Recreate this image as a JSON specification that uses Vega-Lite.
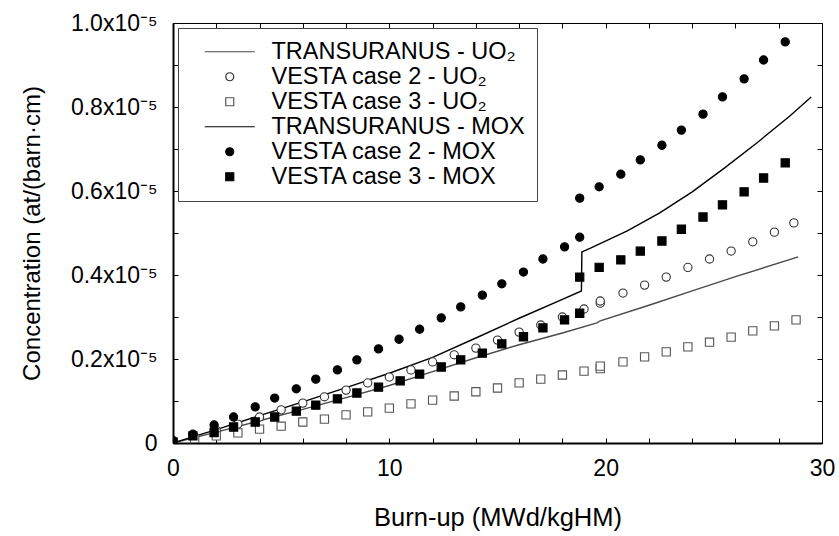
{
  "$schema": "https://vega.github.io/schema/vega-lite/v6.json",
  "width": 649,
  "height": 420,
  "autosize": {"type": "none"},
  "padding": {"left": 173, "top": 23, "right": 17, "bottom": 93},
  "background": "white",
  "config": {
    "font": "Liberation Sans",
    "view": {"stroke": "black", "strokeWidth": 1},
    "axis": {
      "grid": false,
      "domainColor": "black",
      "tickColor": "black",
      "tickWidth": 1,
      "labelColor": "black",
      "titleColor": "black",
      "labelFont": "Liberation Sans",
      "titleFont": "Liberation Sans",
      "labelFontSize": 23,
      "titleFontSize": 25.5,
      "titleFontWeight": "normal",
      "labelOverlap": false,
      "labelFlush": false
    },
    "legend": {
      "labelFont": "Liberation Sans",
      "labelFontSize": 23.5,
      "labelColor": "black",
      "labelLimit": 400,
      "symbolSize": 64,
      "symbolStrokeWidth": 1.2,
      "padding": 12,
      "rowPadding": 0,
      "symbolOffset": 28,
      "labelOffset": 30,
      "strokeColor": "#444444",
      "fillColor": "white",
      "orient": "top-left",
      "offset": 5
    }
  },
  "datasets": {
    "transuranus": [
      {"series": "TRANSURANUS - UO₂", "i": 1, "burnup": 0, "conc": 0},
      {"series": "TRANSURANUS - UO₂", "i": 2, "burnup": 2, "conc": 0.026e-5},
      {"series": "TRANSURANUS - UO₂", "i": 3, "burnup": 4, "conc": 0.053e-5},
      {"series": "TRANSURANUS - UO₂", "i": 4, "burnup": 6, "conc": 0.080e-5},
      {"series": "TRANSURANUS - UO₂", "i": 5, "burnup": 8, "conc": 0.108e-5},
      {"series": "TRANSURANUS - UO₂", "i": 6, "burnup": 10, "conc": 0.137e-5},
      {"series": "TRANSURANUS - UO₂", "i": 7, "burnup": 12, "conc": 0.170e-5},
      {"series": "TRANSURANUS - UO₂", "i": 8, "burnup": 14, "conc": 0.203e-5},
      {"series": "TRANSURANUS - UO₂", "i": 9, "burnup": 16, "conc": 0.234e-5},
      {"series": "TRANSURANUS - UO₂", "i": 10, "burnup": 18, "conc": 0.262e-5},
      {"series": "TRANSURANUS - UO₂", "i": 11, "burnup": 19.6, "conc": 0.286e-5},
      {"series": "TRANSURANUS - UO₂", "i": 12, "burnup": 19.75, "conc": 0.291e-5},
      {"series": "TRANSURANUS - UO₂", "i": 13, "burnup": 22, "conc": 0.328e-5},
      {"series": "TRANSURANUS - UO₂", "i": 14, "burnup": 24, "conc": 0.362e-5},
      {"series": "TRANSURANUS - UO₂", "i": 15, "burnup": 26, "conc": 0.396e-5},
      {"series": "TRANSURANUS - UO₂", "i": 16, "burnup": 28.9, "conc": 0.443e-5},
      {"series": "TRANSURANUS - MOX", "i": 1, "burnup": 0, "conc": 0},
      {"series": "TRANSURANUS - MOX", "i": 2, "burnup": 2, "conc": 0.032e-5},
      {"series": "TRANSURANUS - MOX", "i": 3, "burnup": 4, "conc": 0.065e-5},
      {"series": "TRANSURANUS - MOX", "i": 4, "burnup": 6, "conc": 0.098e-5},
      {"series": "TRANSURANUS - MOX", "i": 5, "burnup": 8, "conc": 0.132e-5},
      {"series": "TRANSURANUS - MOX", "i": 6, "burnup": 10, "conc": 0.166e-5},
      {"series": "TRANSURANUS - MOX", "i": 7, "burnup": 12, "conc": 0.204e-5},
      {"series": "TRANSURANUS - MOX", "i": 8, "burnup": 14, "conc": 0.250e-5},
      {"series": "TRANSURANUS - MOX", "i": 9, "burnup": 16, "conc": 0.297e-5},
      {"series": "TRANSURANUS - MOX", "i": 10, "burnup": 18, "conc": 0.342e-5},
      {"series": "TRANSURANUS - MOX", "i": 11, "burnup": 18.88, "conc": 0.362e-5},
      {"series": "TRANSURANUS - MOX", "i": 12, "burnup": 18.9, "conc": 0.455e-5},
      {"series": "TRANSURANUS - MOX", "i": 13, "burnup": 19.3, "conc": 0.464e-5},
      {"series": "TRANSURANUS - MOX", "i": 14, "burnup": 21, "conc": 0.505e-5},
      {"series": "TRANSURANUS - MOX", "i": 15, "burnup": 22.5, "conc": 0.548e-5},
      {"series": "TRANSURANUS - MOX", "i": 16, "burnup": 24, "conc": 0.598e-5},
      {"series": "TRANSURANUS - MOX", "i": 17, "burnup": 25.5, "conc": 0.655e-5},
      {"series": "TRANSURANUS - MOX", "i": 18, "burnup": 27, "conc": 0.715e-5},
      {"series": "TRANSURANUS - MOX", "i": 19, "burnup": 28.5, "conc": 0.778e-5},
      {"series": "TRANSURANUS - MOX", "i": 20, "burnup": 29.5, "conc": 0.824e-5}
    ],
    "vesta": [
      {"series": "VESTA case 2 - UO₂", "burnup": 0, "conc": 0.003e-5},
      {"series": "VESTA case 2 - UO₂", "burnup": 1, "conc": 0.015e-5},
      {"series": "VESTA case 2 - UO₂", "burnup": 2, "conc": 0.030e-5},
      {"series": "VESTA case 2 - UO₂", "burnup": 3, "conc": 0.045e-5},
      {"series": "VESTA case 2 - UO₂", "burnup": 4, "conc": 0.062e-5},
      {"series": "VESTA case 2 - UO₂", "burnup": 5, "conc": 0.079e-5},
      {"series": "VESTA case 2 - UO₂", "burnup": 6, "conc": 0.095e-5},
      {"series": "VESTA case 2 - UO₂", "burnup": 7, "conc": 0.110e-5},
      {"series": "VESTA case 2 - UO₂", "burnup": 8, "conc": 0.126e-5},
      {"series": "VESTA case 2 - UO₂", "burnup": 9, "conc": 0.143e-5},
      {"series": "VESTA case 2 - UO₂", "burnup": 10, "conc": 0.157e-5},
      {"series": "VESTA case 2 - UO₂", "burnup": 11, "conc": 0.174e-5},
      {"series": "VESTA case 2 - UO₂", "burnup": 12, "conc": 0.193e-5},
      {"series": "VESTA case 2 - UO₂", "burnup": 13, "conc": 0.210e-5},
      {"series": "VESTA case 2 - UO₂", "burnup": 14, "conc": 0.226e-5},
      {"series": "VESTA case 2 - UO₂", "burnup": 15, "conc": 0.245e-5},
      {"series": "VESTA case 2 - UO₂", "burnup": 16, "conc": 0.264e-5},
      {"series": "VESTA case 2 - UO₂", "burnup": 17, "conc": 0.281e-5},
      {"series": "VESTA case 2 - UO₂", "burnup": 18, "conc": 0.300e-5},
      {"series": "VESTA case 2 - UO₂", "burnup": 19, "conc": 0.319e-5},
      {"series": "VESTA case 2 - UO₂", "burnup": 19.75, "conc": 0.333e-5},
      {"series": "VESTA case 2 - UO₂", "burnup": 19.75, "conc": 0.338e-5},
      {"series": "VESTA case 2 - UO₂", "burnup": 20.8, "conc": 0.357e-5},
      {"series": "VESTA case 2 - UO₂", "burnup": 21.8, "conc": 0.376e-5},
      {"series": "VESTA case 2 - UO₂", "burnup": 22.8, "conc": 0.395e-5},
      {"series": "VESTA case 2 - UO₂", "burnup": 23.8, "conc": 0.418e-5},
      {"series": "VESTA case 2 - UO₂", "burnup": 24.8, "conc": 0.438e-5},
      {"series": "VESTA case 2 - UO₂", "burnup": 25.8, "conc": 0.457e-5},
      {"series": "VESTA case 2 - UO₂", "burnup": 26.8, "conc": 0.479e-5},
      {"series": "VESTA case 2 - UO₂", "burnup": 27.8, "conc": 0.502e-5},
      {"series": "VESTA case 2 - UO₂", "burnup": 28.7, "conc": 0.524e-5},
      {"series": "VESTA case 3 - UO₂", "burnup": 0, "conc": 0.002e-5},
      {"series": "VESTA case 3 - UO₂", "burnup": 1, "conc": 0.010e-5},
      {"series": "VESTA case 3 - UO₂", "burnup": 2, "conc": 0.017e-5},
      {"series": "VESTA case 3 - UO₂", "burnup": 3, "conc": 0.024e-5},
      {"series": "VESTA case 3 - UO₂", "burnup": 4, "conc": 0.033e-5},
      {"series": "VESTA case 3 - UO₂", "burnup": 5, "conc": 0.040e-5},
      {"series": "VESTA case 3 - UO₂", "burnup": 6, "conc": 0.050e-5},
      {"series": "VESTA case 3 - UO₂", "burnup": 7, "conc": 0.057e-5},
      {"series": "VESTA case 3 - UO₂", "burnup": 8, "conc": 0.067e-5},
      {"series": "VESTA case 3 - UO₂", "burnup": 9, "conc": 0.074e-5},
      {"series": "VESTA case 3 - UO₂", "burnup": 10, "conc": 0.083e-5},
      {"series": "VESTA case 3 - UO₂", "burnup": 11, "conc": 0.093e-5},
      {"series": "VESTA case 3 - UO₂", "burnup": 12, "conc": 0.102e-5},
      {"series": "VESTA case 3 - UO₂", "burnup": 13, "conc": 0.112e-5},
      {"series": "VESTA case 3 - UO₂", "burnup": 14, "conc": 0.122e-5},
      {"series": "VESTA case 3 - UO₂", "burnup": 15, "conc": 0.131e-5},
      {"series": "VESTA case 3 - UO₂", "burnup": 16, "conc": 0.143e-5},
      {"series": "VESTA case 3 - UO₂", "burnup": 17, "conc": 0.152e-5},
      {"series": "VESTA case 3 - UO₂", "burnup": 18, "conc": 0.162e-5},
      {"series": "VESTA case 3 - UO₂", "burnup": 19, "conc": 0.171e-5},
      {"series": "VESTA case 3 - UO₂", "burnup": 19.75, "conc": 0.177e-5},
      {"series": "VESTA case 3 - UO₂", "burnup": 19.75, "conc": 0.183e-5},
      {"series": "VESTA case 3 - UO₂", "burnup": 20.8, "conc": 0.193e-5},
      {"series": "VESTA case 3 - UO₂", "burnup": 21.8, "conc": 0.205e-5},
      {"series": "VESTA case 3 - UO₂", "burnup": 22.8, "conc": 0.217e-5},
      {"series": "VESTA case 3 - UO₂", "burnup": 23.8, "conc": 0.229e-5},
      {"series": "VESTA case 3 - UO₂", "burnup": 24.8, "conc": 0.240e-5},
      {"series": "VESTA case 3 - UO₂", "burnup": 25.8, "conc": 0.252e-5},
      {"series": "VESTA case 3 - UO₂", "burnup": 26.8, "conc": 0.267e-5},
      {"series": "VESTA case 3 - UO₂", "burnup": 27.8, "conc": 0.279e-5},
      {"series": "VESTA case 3 - UO₂", "burnup": 28.8, "conc": 0.293e-5},
      {"series": "VESTA case 2 - MOX", "burnup": 0, "conc": 0.006e-5},
      {"series": "VESTA case 2 - MOX", "burnup": 0.92, "conc": 0.021e-5},
      {"series": "VESTA case 2 - MOX", "burnup": 1.9, "conc": 0.043e-5},
      {"series": "VESTA case 2 - MOX", "burnup": 2.8, "conc": 0.062e-5},
      {"series": "VESTA case 2 - MOX", "burnup": 3.8, "conc": 0.086e-5},
      {"series": "VESTA case 2 - MOX", "burnup": 4.7, "conc": 0.107e-5},
      {"series": "VESTA case 2 - MOX", "burnup": 5.7, "conc": 0.129e-5},
      {"series": "VESTA case 2 - MOX", "burnup": 6.6, "conc": 0.152e-5},
      {"series": "VESTA case 2 - MOX", "burnup": 7.6, "conc": 0.174e-5},
      {"series": "VESTA case 2 - MOX", "burnup": 8.5, "conc": 0.198e-5},
      {"series": "VESTA case 2 - MOX", "burnup": 9.5, "conc": 0.224e-5},
      {"series": "VESTA case 2 - MOX", "burnup": 10.45, "conc": 0.247e-5},
      {"series": "VESTA case 2 - MOX", "burnup": 11.4, "conc": 0.271e-5},
      {"series": "VESTA case 2 - MOX", "burnup": 12.4, "conc": 0.298e-5},
      {"series": "VESTA case 2 - MOX", "burnup": 13.3, "conc": 0.324e-5},
      {"series": "VESTA case 2 - MOX", "burnup": 14.3, "conc": 0.352e-5},
      {"series": "VESTA case 2 - MOX", "burnup": 15.2, "conc": 0.379e-5},
      {"series": "VESTA case 2 - MOX", "burnup": 16.2, "conc": 0.407e-5},
      {"series": "VESTA case 2 - MOX", "burnup": 17.1, "conc": 0.438e-5},
      {"series": "VESTA case 2 - MOX", "burnup": 18.1, "conc": 0.467e-5},
      {"series": "VESTA case 2 - MOX", "burnup": 18.8, "conc": 0.490e-5},
      {"series": "VESTA case 2 - MOX", "burnup": 18.8, "conc": 0.583e-5},
      {"series": "VESTA case 2 - MOX", "burnup": 19.7, "conc": 0.610e-5},
      {"series": "VESTA case 2 - MOX", "burnup": 20.7, "conc": 0.640e-5},
      {"series": "VESTA case 2 - MOX", "burnup": 21.6, "conc": 0.674e-5},
      {"series": "VESTA case 2 - MOX", "burnup": 22.6, "conc": 0.709e-5},
      {"series": "VESTA case 2 - MOX", "burnup": 23.5, "conc": 0.745e-5},
      {"series": "VESTA case 2 - MOX", "burnup": 24.5, "conc": 0.783e-5},
      {"series": "VESTA case 2 - MOX", "burnup": 25.4, "conc": 0.824e-5},
      {"series": "VESTA case 2 - MOX", "burnup": 26.4, "conc": 0.867e-5},
      {"series": "VESTA case 2 - MOX", "burnup": 27.3, "conc": 0.912e-5},
      {"series": "VESTA case 2 - MOX", "burnup": 28.3, "conc": 0.955e-5},
      {"series": "VESTA case 3 - MOX", "burnup": 0, "conc": 0.002e-5},
      {"series": "VESTA case 3 - MOX", "burnup": 0.92, "conc": 0.017e-5},
      {"series": "VESTA case 3 - MOX", "burnup": 1.9, "conc": 0.025e-5},
      {"series": "VESTA case 3 - MOX", "burnup": 2.8, "conc": 0.038e-5},
      {"series": "VESTA case 3 - MOX", "burnup": 3.8, "conc": 0.050e-5},
      {"series": "VESTA case 3 - MOX", "burnup": 4.7, "conc": 0.062e-5},
      {"series": "VESTA case 3 - MOX", "burnup": 5.7, "conc": 0.076e-5},
      {"series": "VESTA case 3 - MOX", "burnup": 6.6, "conc": 0.090e-5},
      {"series": "VESTA case 3 - MOX", "burnup": 7.6, "conc": 0.105e-5},
      {"series": "VESTA case 3 - MOX", "burnup": 8.5, "conc": 0.119e-5},
      {"series": "VESTA case 3 - MOX", "burnup": 9.5, "conc": 0.133e-5},
      {"series": "VESTA case 3 - MOX", "burnup": 10.5, "conc": 0.148e-5},
      {"series": "VESTA case 3 - MOX", "burnup": 11.4, "conc": 0.164e-5},
      {"series": "VESTA case 3 - MOX", "burnup": 12.4, "conc": 0.181e-5},
      {"series": "VESTA case 3 - MOX", "burnup": 13.3, "conc": 0.198e-5},
      {"series": "VESTA case 3 - MOX", "burnup": 14.3, "conc": 0.214e-5},
      {"series": "VESTA case 3 - MOX", "burnup": 15.2, "conc": 0.236e-5},
      {"series": "VESTA case 3 - MOX", "burnup": 16.2, "conc": 0.253e-5},
      {"series": "VESTA case 3 - MOX", "burnup": 17.1, "conc": 0.274e-5},
      {"series": "VESTA case 3 - MOX", "burnup": 18.1, "conc": 0.293e-5},
      {"series": "VESTA case 3 - MOX", "burnup": 18.8, "conc": 0.309e-5},
      {"series": "VESTA case 3 - MOX", "burnup": 18.8, "conc": 0.395e-5},
      {"series": "VESTA case 3 - MOX", "burnup": 19.7, "conc": 0.418e-5},
      {"series": "VESTA case 3 - MOX", "burnup": 20.7, "conc": 0.436e-5},
      {"series": "VESTA case 3 - MOX", "burnup": 21.6, "conc": 0.457e-5},
      {"series": "VESTA case 3 - MOX", "burnup": 22.6, "conc": 0.481e-5},
      {"series": "VESTA case 3 - MOX", "burnup": 23.5, "conc": 0.509e-5},
      {"series": "VESTA case 3 - MOX", "burnup": 24.5, "conc": 0.538e-5},
      {"series": "VESTA case 3 - MOX", "burnup": 25.4, "conc": 0.567e-5},
      {"series": "VESTA case 3 - MOX", "burnup": 26.4, "conc": 0.598e-5},
      {"series": "VESTA case 3 - MOX", "burnup": 27.3, "conc": 0.631e-5},
      {"series": "VESTA case 3 - MOX", "burnup": 28.3, "conc": 0.667e-5}
    ]
  },
  "layer": [
    {
      "data": {"name": "transuranus"},
      "mark": {"type": "line", "strokeWidth": 1.4, "clip": true},
      "encoding": {
        "x": {
          "field": "burnup",
          "type": "quantitative",
          "scale": {"domain": [0, 30], "nice": false, "zero": false},
          "axis": {
            "orient": "bottom",
            "values": [0, 2, 4, 6, 8, 10, 12, 14, 16, 18, 20, 22, 24, 26, 28, 30],
            "labelExpr": "datum.value % 10 == 0 ? format(datum.value, 'd') : ''",
            "tickSize": -5,
            "labelPadding": 19,
            "domainWidth": 2,
            "title": "Burn-up (MWd/kgHM)",
            "titlePadding": 25
          }
        },
        "y": {
          "field": "conc",
          "type": "quantitative",
          "scale": {"domain": [0, 0.00001], "nice": false, "zero": false},
          "axis": {
            "orient": "left",
            "values": [0, 0.000001, 0.000002, 0.000003, 0.000004, 0.000005, 0.000006, 0.000007, 0.000008, 0.000009, 0.00001],
            "labelExpr": "round(datum.value * 1e6) % 2 != 0 ? '' : (datum.value == 0 ? '0' : format(datum.value * 1e5, '.1f') + 'x10⁻⁵')",
            "tickSize": -5,
            "labelPadding": 21,
            "domainWidth": 2,
            "title": "Concentration (at/(barn·cm)",
            "titleFontSize": 24,
            "titlePadding": 26
          }
        },
        "order": {"field": "i", "type": "quantitative"},
        "stroke": {
          "field": "series",
          "type": "nominal",
          "scale": {
            "domain": ["TRANSURANUS - UO₂", "VESTA case 2 - UO₂", "VESTA case 3 - UO₂", "TRANSURANUS - MOX", "VESTA case 2 - MOX", "VESTA case 3 - MOX"],
            "range": ["#4a4a4a", "#333333", "#555555", "#000000", "#000000", "#000000"]
          },
          "legend": {"title": null}
        }
      }
    },
    {
      "data": {"name": "vesta"},
      "mark": {"type": "point", "size": 68, "strokeWidth": 1.1, "opacity": 1, "clip": true},
      "encoding": {
        "x": {
          "field": "burnup",
          "type": "quantitative",
          "axis": {
            "orient": "top",
            "values": [0, 2, 4, 6, 8, 10, 12, 14, 16, 18, 20, 22, 24, 26, 28, 30],
            "labels": false,
            "domain": false,
            "tickSize": -5,
            "title": null
          }
        },
        "y": {
          "field": "conc",
          "type": "quantitative",
          "axis": {
            "orient": "right",
            "values": [0, 0.000001, 0.000002, 0.000003, 0.000004, 0.000005, 0.000006, 0.000007, 0.000008, 0.000009, 0.00001],
            "labels": false,
            "domain": false,
            "tickSize": -5,
            "title": null
          }
        },
        "shape": {
          "field": "series",
          "type": "nominal",
          "scale": {
            "domain": ["TRANSURANUS - UO₂", "VESTA case 2 - UO₂", "VESTA case 3 - UO₂", "TRANSURANUS - MOX", "VESTA case 2 - MOX", "VESTA case 3 - MOX"],
            "range": ["M-6.25,0H6.25", "circle", "square", "M-6.25,0H6.25", "circle", "square"]
          },
          "legend": {"title": null}
        },
        "fill": {
          "field": "series",
          "type": "nominal",
          "scale": {
            "domain": ["TRANSURANUS - UO₂", "VESTA case 2 - UO₂", "VESTA case 3 - UO₂", "TRANSURANUS - MOX", "VESTA case 2 - MOX", "VESTA case 3 - MOX"],
            "range": ["transparent", "white", "white", "transparent", "#000000", "#000000"]
          },
          "legend": {"title": null}
        },
        "stroke": {
          "field": "series",
          "type": "nominal",
          "legend": {"title": null}
        }
      }
    }
  ],
  "resolve": {"axis": {"x": "independent", "y": "independent"}}
}
